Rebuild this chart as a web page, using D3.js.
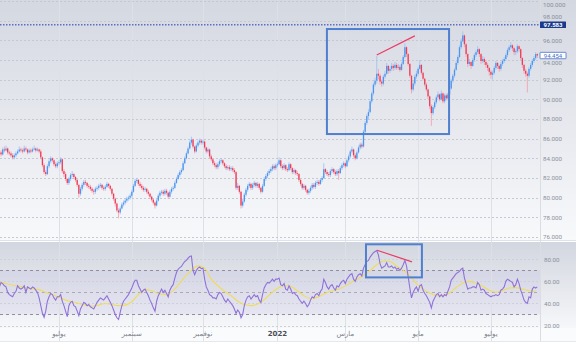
<!DOCTYPE html>
<html><head><meta charset="utf-8">
<script src="https://cdn.jsdelivr.net/npm/d3@7"></script>
<style>
html,body{margin:0;padding:0;background:#fff;}
svg{display:block;}
</style></head><body>
<svg id="chart" width="576" height="359"></svg>
<script>
// ---------------- DATA ----------------
const startDate = "2021-05-12";
const endDate = "2022-08-10";

const closes = [
84.6,84.4,84.9,84.8,85.0,84.6,84.5,84.3,84.1,84.3,84.5,84.7,84.9,84.8,84.7,85.0,84.9,84.6,84.8,84.7,
84.9,85.0,84.8,84.9,84.7,84.1,83.3,82.6,82.4,83.2,83.7,84.0,83.8,83.4,83.2,83.5,83.6,83.9,82.7,82.4,
81.9,81.5,81.9,82.3,82.4,82.1,81.8,81.3,80.4,80.9,81.3,81.6,81.5,81.2,81.1,80.9,80.7,80.6,80.9,81.0,
81.2,81.3,81.0,80.9,81.1,81.4,81.2,80.9,80.4,79.9,79.4,78.7,78.5,78.9,79.3,79.5,79.7,79.9,80.0,80.2,
80.6,81.2,81.7,81.8,81.4,81.2,81.0,80.8,80.9,80.6,80.4,80.1,79.8,79.5,79.2,79.7,80.2,80.5,80.6,80.4,
80.7,80.5,80.1,80.6,80.9,81.0,81.5,81.9,82.3,82.6,82.8,83.5,84.0,84.5,85.0,85.6,85.9,85.2,84.7,85.3,
85.6,85.8,85.6,85.7,85.1,84.7,84.9,84.2,83.9,83.5,83.3,83.1,83.4,83.7,83.8,83.5,83.2,83.0,83.1,82.9,
83.0,82.8,82.6,81.0,81.2,80.6,79.2,79.6,80.3,80.8,81.2,81.4,81.0,81.3,81.5,81.2,81.4,81.0,80.6,81.2,
81.9,82.2,82.5,82.7,82.9,83.2,83.0,83.3,83.4,83.8,83.2,83.0,83.3,82.9,82.8,83.4,83.0,82.6,82.8,82.5,
82.4,81.8,81.4,81.0,81.2,80.8,80.5,80.7,81.0,81.3,81.1,81.5,81.6,81.4,81.8,82.0,82.9,82.6,82.4,82.3,
82.7,82.9,82.6,82.4,82.7,82.5,83.0,83.3,83.5,83.2,83.8,84.2,84.7,84.9,84.3,84.0,84.6,85.1,85.4,85.2,
86.7,87.6,88.3,88.7,89.8,90.6,91.5,91.9,92.6,92.4,91.8,91.6,92.3,92.6,93.4,92.9,93.1,93.4,93.2,93.5,
93.2,93.3,93.0,93.6,94.3,95.3,94.6,93.6,92.4,91.0,91.6,92.3,92.6,93.1,93.5,92.7,92.1,91.5,91.0,90.3,
89.3,88.6,89.2,89.7,90.2,90.5,90.0,90.6,89.8,90.4,90.1,90.5,91.1,91.9,92.4,93.0,93.7,94.3,95.3,95.9,
96.5,95.6,94.6,93.6,93.8,93.4,94.0,94.5,94.8,95.1,94.6,93.9,94.1,93.8,93.5,93.2,92.8,92.5,92.7,93.2,
93.7,93.4,93.1,93.6,93.9,94.1,94.5,95.0,95.3,95.5,95.2,94.8,94.9,95.4,95.1,94.2,93.5,92.9,92.6,92.4,
93.1,93.5,93.9,94.2,94.6,94.454
];
const opens = [
84.8,84.6,84.4,84.9,84.8,85.0,84.6,84.5,84.3,84.1,84.3,84.5,84.7,84.9,84.8,84.7,85.0,84.9,84.6,84.8,
84.7,84.9,85.0,84.8,84.9,84.7,84.1,83.3,82.6,82.4,83.2,83.7,84.0,83.8,83.4,83.2,83.5,83.6,83.9,82.7,
82.4,81.9,81.5,81.9,82.3,82.4,82.1,81.8,81.3,80.4,80.9,81.3,81.6,81.5,81.2,81.1,80.9,80.7,80.6,80.9,
81.0,81.2,81.3,81.0,80.9,81.1,81.4,81.2,80.9,80.4,79.9,79.4,78.7,78.5,78.9,79.3,79.5,79.7,79.9,80.0,
80.2,80.6,81.2,81.7,81.8,81.4,81.2,81.0,80.8,80.9,80.6,80.4,80.1,79.8,79.5,79.2,79.7,80.2,80.5,80.6,
80.4,80.7,80.5,80.1,80.6,80.9,81.0,81.5,81.9,82.3,82.6,82.8,83.5,84.0,84.5,85.0,85.6,85.9,85.2,84.7,
85.3,85.6,85.8,85.6,85.7,85.1,84.7,84.9,84.2,83.9,83.5,83.3,83.1,83.4,83.7,83.8,83.5,83.2,83.0,83.1,
82.9,83.0,82.8,82.6,81.0,81.2,80.6,79.2,79.6,80.3,80.8,81.2,81.4,81.0,81.3,81.5,81.2,81.4,81.0,80.6,
81.2,81.9,82.2,82.5,82.7,82.9,83.2,83.0,83.3,83.4,83.8,83.2,83.0,83.3,82.9,82.8,83.4,83.0,82.6,82.8,
82.5,82.4,81.8,81.4,81.0,81.2,80.8,80.5,80.7,81.0,81.3,81.1,81.5,81.6,81.4,81.8,82.0,82.9,82.6,82.4,
82.3,82.7,82.9,82.6,82.4,82.7,82.5,83.0,83.3,83.5,83.2,83.8,84.2,84.7,84.9,84.3,84.0,84.6,85.1,85.4,
85.2,86.7,87.6,88.3,88.7,89.8,90.6,91.5,91.9,92.6,92.4,91.8,91.6,92.3,92.6,93.4,92.9,93.1,93.4,93.2,
93.5,93.2,93.3,93.0,93.6,94.3,95.3,94.6,93.6,92.4,91.0,91.6,92.3,92.6,93.1,93.5,92.7,92.1,91.5,91.0,
90.3,89.3,88.6,89.2,89.7,90.2,90.5,90.0,90.6,89.8,90.4,90.1,90.5,91.1,91.9,92.4,93.0,93.7,94.3,95.3,
95.9,96.5,95.6,94.6,93.6,93.8,93.4,94.0,94.5,94.8,95.1,94.6,93.9,94.1,93.8,93.5,93.2,92.8,92.5,92.7,
93.2,93.7,93.4,93.1,93.6,93.9,94.1,94.5,95.0,95.3,95.5,95.2,94.8,94.9,95.4,95.1,94.2,93.5,92.9,92.6,
92.4,93.1,93.5,93.9,94.2,94.6
];
const highs = [
85.0,84.8,85.1,85.2,85.3,85.1,84.8,84.7,84.5,84.5,84.7,84.9,85.2,85.1,85.0,85.3,85.2,85.0,85.0,85.0,
85.1,85.3,85.1,85.1,85.0,84.9,84.2,83.5,82.8,83.4,83.9,84.2,84.1,83.9,83.6,83.7,83.8,84.1,84.0,82.9,
82.6,82.0,82.1,82.5,82.7,82.5,82.2,81.9,81.4,81.1,81.5,81.8,81.8,81.6,81.4,81.3,81.1,80.9,81.1,81.2,
81.4,81.5,81.4,81.2,81.3,81.6,81.5,81.3,81.0,80.5,80.0,79.5,78.9,79.1,79.5,79.7,79.9,80.1,80.2,80.4,
80.8,81.4,81.9,82.0,81.9,81.6,81.4,81.2,81.1,81.0,80.8,80.5,80.2,79.9,79.6,79.9,80.4,80.7,80.8,80.8,
80.9,80.9,80.6,80.8,81.1,81.2,81.7,82.1,82.5,82.8,83.0,83.7,84.2,84.7,85.2,85.8,86.2,86.0,85.3,85.5,
85.8,86.0,85.9,85.9,85.8,85.2,85.1,85.0,84.4,84.0,83.7,83.5,83.6,83.9,84.0,83.9,83.6,83.4,83.3,83.3,
83.2,83.2,83.0,82.7,81.5,81.3,80.7,79.9,80.5,81.0,81.4,81.6,81.5,81.5,81.7,81.6,81.6,81.5,81.1,81.4,
82.1,82.4,82.7,82.9,83.1,83.4,83.4,83.5,83.6,84.1,83.9,83.4,83.5,83.4,83.1,83.6,83.5,83.1,83.0,82.9,
82.7,82.5,81.9,81.5,81.4,81.3,80.9,80.9,81.2,81.5,81.5,81.7,81.8,81.8,82.0,82.2,83.5,83.0,82.8,82.6,
82.9,83.1,83.0,82.8,82.9,82.9,83.2,83.5,83.7,83.6,84.0,84.4,84.9,85.2,85.0,84.5,84.8,85.3,85.6,85.6,
86.9,87.8,88.5,89.0,90.0,90.8,91.7,92.2,94.4,93.1,92.6,92.0,92.5,92.9,93.7,93.5,93.4,93.7,93.6,93.8,
93.7,93.6,93.5,93.8,94.5,95.7,95.4,94.7,93.7,92.5,91.9,92.5,92.9,93.3,94.0,93.6,92.8,92.2,91.7,91.1,
90.4,89.5,89.4,89.9,90.4,90.8,90.6,90.9,90.7,90.6,90.6,90.7,91.3,92.1,92.6,93.2,93.9,94.5,95.5,96.2,
96.9,96.6,95.7,94.7,94.1,93.9,94.2,94.7,95.0,95.4,95.2,94.7,94.4,94.3,94.0,93.7,93.3,93.0,92.9,93.4,
93.9,93.8,93.5,93.8,94.1,94.3,94.7,95.2,95.5,95.8,95.6,95.3,95.1,95.6,95.5,95.2,94.3,93.6,93.1,92.8,
93.3,93.7,94.1,94.4,94.8,94.7
];
const lows = [
84.4,84.2,84.3,84.6,84.7,84.4,84.3,84.1,83.9,83.9,84.1,84.4,84.6,84.6,84.5,84.6,84.7,84.4,84.5,84.5,
84.6,84.8,84.6,84.7,84.5,83.9,83.1,82.4,82.2,82.3,83.0,83.5,83.6,83.2,83.0,83.0,83.3,83.4,82.5,82.1,
81.7,81.3,81.3,81.7,82.1,81.9,81.6,81.1,80.0,80.2,80.7,81.1,81.3,81.0,80.9,80.7,80.5,80.3,80.4,80.7,
80.8,81.0,80.8,80.7,80.7,81.0,81.0,80.7,80.2,79.7,79.1,78.5,77.9,78.3,78.8,79.1,79.3,79.5,79.7,79.8,
80.0,80.5,81.1,81.5,81.2,81.0,80.8,80.6,80.6,80.4,80.2,79.9,79.6,79.3,78.9,79.1,79.6,80.0,80.3,80.2,
80.2,80.3,79.9,80.0,80.4,80.7,80.9,81.4,81.8,82.1,82.4,82.7,83.4,83.9,84.4,84.9,85.4,85.0,84.5,84.6,
85.1,85.4,85.4,85.4,84.9,84.5,84.5,84.0,83.7,83.3,83.1,82.9,82.9,83.2,83.5,83.3,83.0,82.8,82.8,82.7,
82.7,82.6,82.4,80.8,80.8,80.4,78.9,79.0,79.5,80.1,80.6,81.0,80.8,80.8,81.1,81.0,81.0,80.8,80.4,80.5,
81.1,81.7,82.0,82.3,82.5,82.7,82.8,82.8,83.1,83.3,83.0,82.8,82.8,82.7,82.6,82.7,82.8,82.4,82.4,82.3,
82.2,81.6,81.2,80.8,80.8,80.6,80.3,80.3,80.5,80.8,80.9,80.9,81.3,81.2,81.3,81.6,81.9,82.4,82.2,82.1,
82.1,82.5,82.4,82.2,82.2,81.8,82.4,82.8,83.1,83.0,83.1,83.6,84.0,84.5,84.1,83.8,83.9,84.5,84.9,85.0,
85.1,86.5,87.4,88.0,88.6,89.6,90.4,91.3,91.6,92.0,91.5,91.3,91.4,92.1,92.5,92.6,92.7,92.9,92.9,93.0,
93.0,93.0,92.8,92.9,93.5,94.2,94.3,93.4,92.2,90.6,90.8,91.4,92.1,92.4,93.0,92.5,91.9,91.3,90.8,90.0,
89.0,87.3,88.4,89.0,89.5,90.0,89.8,89.9,89.6,89.6,89.9,89.9,90.4,91.0,91.7,92.2,92.9,93.5,94.2,95.1,
95.8,95.3,94.3,93.3,93.4,93.1,93.3,93.8,94.3,94.6,94.3,93.6,93.7,93.5,93.2,92.9,92.4,92.1,92.0,92.5,
93.0,93.1,92.8,92.9,93.4,93.7,93.9,94.3,94.8,95.1,94.9,94.5,94.5,94.7,94.8,94.0,93.2,92.6,92.3,90.7,
92.2,92.9,93.3,93.7,94.0,94.2
];
const rsi = [
55,59,58,56,55,50,48,47,46,49,51,56,54,53,54,56,50,55,54,53,
55,54,52,50,45,38,31,27.5,33,42,46,49,48,45,43,46,46,48,42,38,
33,28,38,41,42,38,37,33,29,35,38,41,40,38,39,37,36,35,38,41,
43,45,44,43,45,47,44,41,38,34,30,27,25.5,32,38,42,44,46,48,51,
54,58,61,61,56,53,50,52,53,50,47,43,40,36,33,42,47,50,53,50,
52,49,46,52,55,57,63,68,71,72.5,73.5,76,78,79,81,82.5,83,70,66,70,
72,73,71.5,72,62,55,52,48,47,45,45,44,48,50,49,46,43,41,44,42,
40,38,35,31,34,32,27,30,38,43,46,47,44,46,48,46,47,43,41,48,
54,57,59,58.5,60,62,60,62,62,63,57,56,58,53,52,56,53,49,50,48,
47,44,42,40,42,40,37,39,43,46,45,48,49,47,51,53,62,59,55,53,
56,57,54,52,56,55,58,60,61,58,62,64,66,67,62,60,64,66,67,65,
72,75,78,79,82,84,86,87,88,84,76,72,73,74,77,73,73,74,72,73,
71,72,70,72,75,79,74,64,54,45,50,53,55,51,56,57,52,49,47,44,
41,36,42,45,48,49,46,48,46,48,47,51,55,61,63,65,67,68,69,71,
72,63,58,53,54,54,55,55,54,59,57,52,53,52,49,48,47,46,47,47,
48,47,48,52,53,55,60,62,61,60,59,55,57,62,58,52,48,43,41,40,
46,45,53,55,54,55
];
// RSI moving average, one reading every rsiMaStep bars
const rsiMaStep = 4;
const rsiMa = [
59.4,58,56.5,55.5,54,53.3,52.5,50,48,45.5,
43,41.5,40,38.5,37.5,38.5,40,39,38,38.5,
41.5,48,52.5,51.5,49,48,50.5,56.5,64,70,
74,72,62,56,51,47,42,39,38,39.5,
43.5,49,53.5,56.3,55.5,51.5,47,44.5,45.5,48.5,
51,52.5,55,58.5,62,65.5,70,75,78.5,78,
74,70,65,58,53,49.5,47,47,49.5,54.5,
58.5,60,58.5,55.5,52,50.2,51.5,54,54.3,53,
51.5,51
];
const priceTicks = [100,98,96,94,92,90,88,86,84,82,80,78,76];
const rsiTicks = [80,60,40,20];
const rsiLevels = [70,50,30];
const monthTickDates = ["2021-07-01","2021-09-01","2021-11-01","2022-01-03","2022-03-01","2022-05-02","2022-07-01"];
const monthTickLabels = ["يوليو","سبتمبر","نوفمبر","2022","مارس","مايو","يوليو"];
const refPrice = 97.583;
const lastPrice = 94.454;
// annotations (bar index, value)
const mainBox = {i0:197.9, i1:271.7, v0:86.47, v1:97.15};
const mainTrend = [[228,94.5],[251,96.45]];
const rsiBox = {i0:221.5, i1:255.3, v0:63.6, v1:93.6};
const rsiTrend = [[228.2,88.2],[249.3,77.7]];

// ---------------- LAYOUT ----------------
const W = 576;
const axisX = 540;
const mainBot = 240, rsiTop = 242, rsiBot = 328, xAxisBot = 341;

const parse = d3.utcParse("%Y-%m-%d");
const days = d3.utcDay.range(parse(startDate), d3.utcDay.offset(parse(endDate), 1))
  .filter(d => d.getUTCDay() % 6 !== 0);
const n = days.length;

const xBand = d3.scaleBand().domain(d3.range(n)).range([-1.43, 538.1]).padding(0);
const xc = i => xBand(i) + xBand.bandwidth() / 2;
const xi = d3.scaleLinear().domain([0, n - 1]).range([xc(0), xc(n - 1)]);
const yP = d3.scaleLinear().domain([76, 100]).range([237, 1]);
const yR = d3.scaleLinear().domain([20, 80]).range([325.5, 259.3]);

const svg = d3.select("#chart");
const defs = svg.append("defs");
function grad(id, stops) {
  const g = defs.append("linearGradient").attr("id", id).attr("x1", 0).attr("y1", 0).attr("x2", 0).attr("y2", 1);
  stops.forEach(s => g.append("stop").attr("offset", s[0]).attr("stop-color", s[1]));
}
grad("bgMain", [["0%", "#d4d8e1"], ["50%", "#e6e8ee"], ["100%", "#f8f9fb"]]);
grad("bgRsi", [["0%", "#d2d6df"], ["100%", "#f6f7f9"]]);
defs.append("clipPath").attr("id", "clipMain").append("rect").attr("x", 0).attr("y", 0).attr("width", axisX).attr("height", mainBot);
defs.append("clipPath").attr("id", "clipRsi").append("rect").attr("x", 0).attr("y", rsiTop).attr("width", axisX).attr("height", rsiBot - rsiTop);

// backgrounds
svg.append("rect").attr("width", W).attr("height", 359).attr("fill", "#ffffff");
svg.append("rect").attr("x", 0).attr("y", 0).attr("width", W).attr("height", mainBot).attr("fill", "url(#bgMain)");
svg.append("rect").attr("x", 0).attr("y", rsiTop).attr("width", W).attr("height", rsiBot - rsiTop).attr("fill", "url(#bgRsi)");
svg.append("rect").attr("x", 0).attr("y", rsiBot).attr("width", W).attr("height", xAxisBot - rsiBot).attr("fill", "#fafbfc");
svg.append("rect").attr("x", 0).attr("y", yR(70)).attr("width", axisX).attr("height", yR(30) - yR(70))
  .attr("fill", "#8a6fd6").attr("opacity", 0.09);

// pane separators
svg.append("line").attr("x1", 0).attr("x2", W).attr("y1", mainBot + 0.5).attr("y2", mainBot + 0.5).attr("stroke", "#dfe2e8");
svg.append("line").attr("x1", 0).attr("x2", W).attr("y1", xAxisBot + 0.5).attr("y2", xAxisBot + 0.5).attr("stroke", "#e6e8ec");
svg.append("line").attr("x1", axisX + 0.5).attr("x2", axisX + 0.5).attr("y1", 0).attr("y2", xAxisBot).attr("stroke", "#dadde3");

// month ticks
const tickIdx = monthTickDates.map(s => days.findIndex(d => d >= parse(s)));
svg.append("g").selectAll("line").data(tickIdx).join("line")
  .attr("x1", d => Math.round(xc(d)) + 0.5).attr("x2", d => Math.round(xc(d)) + 0.5)
  .attr("y1", 0).attr("y2", xAxisBot).attr("stroke", "#dde0e6").attr("stroke-width", 1);

// price grid
svg.append("g").selectAll("line").data(priceTicks).join("line")
  .attr("x1", 0).attr("x2", axisX).attr("y1", d => Math.round(yP(d)) + 0.5).attr("y2", d => Math.round(yP(d)) + 0.5)
  .attr("stroke", "#c5c9d2").attr("stroke-dasharray", "2,2");

// rsi grid
svg.append("g").selectAll("line").data(rsiTicks).join("line")
  .attr("x1", 0).attr("x2", axisX).attr("y1", d => Math.round(yR(d)) + 0.5).attr("y2", d => Math.round(yR(d)) + 0.5)
  .attr("stroke", "#cdd0d8").attr("stroke-dasharray", "2,2");
svg.append("g").selectAll("line").data(rsiLevels).join("line")
  .attr("x1", 0).attr("x2", axisX).attr("y1", d => Math.round(yR(d)) + 0.5).attr("y2", d => Math.round(yR(d)) + 0.5)
  .attr("stroke", d => d === 50 ? "#a9a9b8" : "#8f8f9e").attr("stroke-dasharray", "3,3");

// reference price line
svg.append("line").attr("x1", 0).attr("x2", axisX).attr("y1", yP(refPrice)).attr("y2", yP(refPrice))
  .attr("stroke", "#5b6ec4").attr("stroke-width", 1.5).attr("stroke-dasharray", "1.5,1.5");

// candles
const up = "#4b95f0", down = "#ee3c58", upW = "#97c0f4", downW = "#f39aa9";
const cg = svg.append("g").attr("clip-path", "url(#clipMain)");
const idx = d3.range(n);
cg.selectAll("line.wick").data(idx).join("line").attr("class", "wick")
  .attr("x1", i => xc(i)).attr("x2", i => xc(i))
  .attr("y1", i => yP(highs[i])).attr("y2", i => yP(lows[i]))
  .attr("stroke", i => closes[i] >= opens[i] ? upW : downW).attr("stroke-width", 0.8);
cg.selectAll("rect.body").data(idx).join("rect").attr("class", "body")
  .attr("x", i => xc(i) - 0.65).attr("width", 1.3)
  .attr("y", i => yP(Math.max(opens[i], closes[i])))
  .attr("height", i => Math.max(0.8, Math.abs(yP(opens[i]) - yP(closes[i]))))
  .attr("fill", i => closes[i] >= opens[i] ? up : down);

// RSI lines
const rg = svg.append("g").attr("clip-path", "url(#clipRsi)");
rg.append("path").datum(rsiMa)
  .attr("d", d3.line().x((d, k) => xc(k * rsiMaStep)).y(d => yR(d)).curve(d3.curveMonotoneX))
  .attr("fill", "none").attr("stroke", "#efdc5c").attr("stroke-width", 1.1);
rg.append("path").datum(rsi)
  .attr("d", d3.line().x((d, i) => xc(i)).y(d => yR(d)))
  .attr("fill", "none").attr("stroke", "#8f72d9").attr("stroke-width", 1.1);

// annotations
function box(b, ys) {
  svg.append("rect").attr("x", xi(b.i0)).attr("y", ys(b.v1))
    .attr("width", xi(b.i1) - xi(b.i0)).attr("height", ys(b.v0) - ys(b.v1))
    .attr("fill", "none").attr("stroke", "#4f7fcf").attr("stroke-width", 2);
}
function trend(t, ys) {
  svg.append("line").attr("x1", xi(t[0][0])).attr("y1", ys(t[0][1]))
    .attr("x2", xi(t[1][0])).attr("y2", ys(t[1][1]))
    .attr("stroke", "#ec3d66").attr("stroke-width", 1.2);
}
box(mainBox, yP); trend(mainTrend, yP);
box(rsiBox, yR); trend(rsiTrend, yR);

// right axes
const axP = svg.append("g").attr("transform", `translate(${axisX},0)`)
  .call(d3.axisRight(yP).tickValues(priceTicks).tickFormat(d3.format(".3f")).tickSize(0).tickPadding(3));
const axR = svg.append("g").attr("transform", `translate(${axisX},0)`)
  .call(d3.axisRight(yR).tickValues(rsiTicks).tickFormat(d3.format(".2f")).tickSize(0).tickPadding(4));
[axP, axR].forEach(a => {
  a.select(".domain").remove();
  a.selectAll("text").attr("fill", "#8b8f99").attr("font-size", 6.2).attr("font-family", "Roboto, 'DejaVu Sans', sans-serif");
});
// keep the top label inside the picture, and keep the 98 / 94 labels clear of the price tags
axP.selectAll(".tick").filter(d => d === 100).select("text").attr("dy", "0.9em");
axP.selectAll(".tick").filter(d => d === 98).select("text").attr("dy", "-0.3em");
axP.selectAll(".tick").filter(d => d === 94).select("text").attr("dy", "0.75em");

// price labels
function priceTag(v, fill, stroke, color, bold) {
  const y = yP(v);
  svg.append("rect").attr("x", axisX).attr("y", y - 3.2).attr("width", 26).attr("height", 6.4)
    .attr("fill", fill).attr("stroke", stroke).attr("stroke-width", stroke === "none" ? 0 : 0.8).attr("rx", 0.5);
  svg.append("text").attr("x", axisX + 13).attr("y", y).attr("dy", "0.35em").attr("text-anchor", "middle")
    .attr("fill", color).attr("font-size", 6).attr("font-weight", bold ? "bold" : "normal")
    .attr("font-family", "Roboto, 'DejaVu Sans', sans-serif").text(d3.format(".3f")(v));
}
priceTag(refPrice, "#1b3a8c", "none", "#ffffff", true);
priceTag(lastPrice, "#ffffff", "#4570c8", "#4570c8", false);

// x axis
const axX = svg.append("g").attr("transform", `translate(0,${rsiBot})`)
  .call(d3.axisBottom(xBand).tickValues(tickIdx).tickFormat((d, k) => monthTickLabels[k]).tickSize(0).tickPadding(3));
axX.select(".domain").remove();
axX.selectAll("text").attr("font-size", 7)
  .attr("font-family", "'DejaVu Sans', 'Noto Sans', sans-serif")
  .attr("font-weight", (d, k) => monthTickLabels[k] === "2022" ? "bold" : "normal")
  .attr("fill", (d, k) => monthTickLabels[k] === "2022" ? "#4a4e58" : "#7d818b");
</script>
</body></html>
